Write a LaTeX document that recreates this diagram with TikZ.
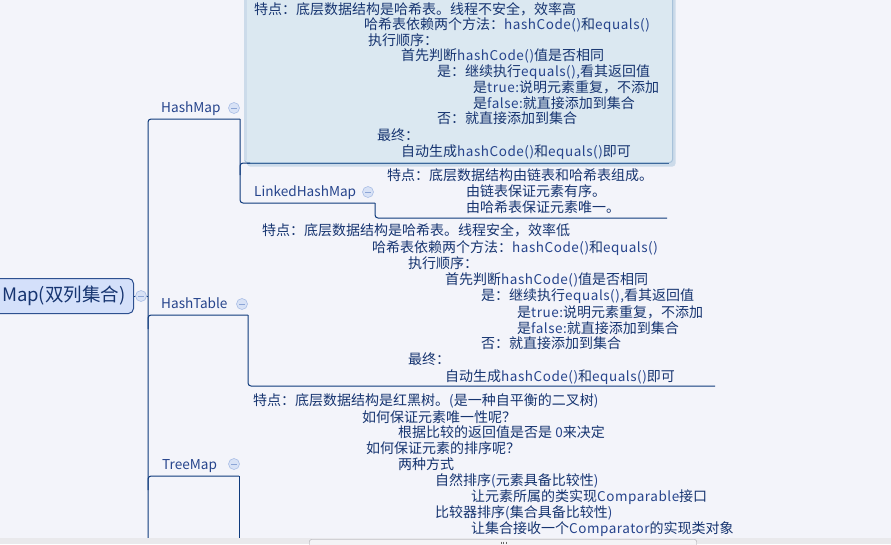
\documentclass[tikz,border=0pt]{standalone}
\usepackage{fontspec}
\setmainfont{Noto Sans CJK SC}
\newfontfamily\enfont[LetterSpace=4.0]{Noto Sans CJK SC}
\definecolor{bg}{RGB}{243,244,250}
\definecolor{ink}{RGB}{22,52,112}
\definecolor{enink}{RGB}{38,68,140}
\definecolor{linec}{RGB}{14,58,124}
\definecolor{boxfill}{RGB}{219,232,241}
\definecolor{boxedge}{RGB}{168,194,218}
\definecolor{boxshadow}{RGB}{204,219,234}
\definecolor{boxbottom}{RGB}{60,104,155}
\definecolor{rootfill}{RGB}{212,224,250}
\definecolor{rootedge}{RGB}{45,80,144}
\definecolor{circfill}{RGB}{216,226,246}
\definecolor{circedge}{RGB}{170,190,230}
\definecolor{circminus}{RGB}{140,165,214}
\definecolor{barfill}{RGB}{233,233,236}
\definecolor{thumbfill}{RGB}{244,244,246}
\definecolor{thumbedge}{RGB}{160,160,166}
\newcommand\en[1]{{\enfont\fontsize{13.5}{14}\selectfont\color{enink}#1}}
\tikzset{
  txt/.style={anchor=base west,inner sep=0pt,font=\fontsize{14}{14}\selectfont,text=ink},
  topic/.style={anchor=base west,inner sep=0pt,font=\fontsize{13.6}{14}\selectfont,text=enink},
  conn/.style={draw=linec,line width=1pt,rounded corners=3pt},
  fold/.style={circle,minimum size=11pt,inner sep=0pt,fill=circfill,draw=circedge,line width=0.6pt},
  hmbox/.style={rectangle,rounded corners=3pt,fill=boxfill,draw=boxedge,line width=1pt,inner sep=0pt},
  rootbox/.style={rectangle,rounded corners=5pt,fill=rootfill,draw=rootedge,line width=1pt,inner sep=0pt,text=ink,font=\fontsize{18.5}{18.5}\selectfont}
}
\begin{document}
\begin{tikzpicture}[x=1pt,y=-1pt]
\useasboundingbox (0,0) rectangle (891,544);
\fill[bg] (0,0) rectangle (891,544);
\clip (0,0) rectangle (891,544);

% ---------- corner coordinates ----------
\coordinate (trunkBot) at (148,538);
\coordinate (trunkTop) at (148,119);
\coordinate (hmEnd) at (240,119);
\coordinate (hmBoxJ) at (240,163);
\coordinate (lhmStart) at (240,203);
\coordinate (lhmEnd) at (375,203);
\coordinate (lhmDet) at (375,218);
\coordinate (lhmDetEnd) at (667,218);
\coordinate (htStart) at (148,315);
\coordinate (htEnd) at (248,315);
\coordinate (htDet) at (248,386);
\coordinate (htDetEnd) at (715,386);
\coordinate (tmStart) at (148,476);
\coordinate (tmEnd) at (239,476);
\coordinate (tmBot) at (239,538);
\coordinate (rootJ) at (148,296);

% ---------- HashMap detail box ----------
\fill[boxshadow,rounded corners=3pt] (247,-6) rectangle (675.5,166.5);
\node[hmbox,minimum width=428pt,minimum height=170pt,anchor=south west] (hmbox) at (244,163) {};
\draw[boxshadow,line width=3pt] (245.8,-6) -- (245.8,160);
\draw[boxbottom,line width=1pt] (247,163) -- (669,163);

% ---------- root ----------
\node[rootbox,minimum height=35pt,anchor=east] (root) at (134,296)
  {\makebox[142pt][r]{Map(双列集合)\hspace{8pt}}};

% ---------- connectors ----------
\draw[conn] (root.east) -- (rootJ);
\draw[conn] (trunkBot) -- (trunkTop) -- (hmEnd);
\draw[conn] (hmEnd) -- (lhmStart) -- (lhmEnd);
\draw[conn] ([yshift=-12pt]hmBoxJ) -- (hmBoxJ) -- ([xshift=10pt]hmBoxJ);
\draw[conn] (lhmEnd) -- (lhmDet) -- (lhmDetEnd);
\draw[conn] ([yshift=-14pt]htStart) -- (htStart) -- (htEnd);
\draw[conn] (htEnd) -- (htDet) -- (htDetEnd);
\draw[conn] ([yshift=-14pt]tmStart) -- (tmStart) -- (tmEnd);
\draw[conn] (tmEnd) -- (tmBot);

% ---------- topics ----------
\node[topic] (hm) at (161,112.5) {HashMap};
\node[topic] (lhm) at (254,196.5) {LinkedHashMap};
\node[topic] (ht) at (161,308.5) {HashTable};
\node[topic] (tm) at (162,469) {TreeMap};

% ---------- fold circles ----------
\node[fold] (f0) at (141,296) {};
\node[fold] (f1) at (234,108) {};
\node[fold] (f2) at (368,192) {};
\node[fold] (f3) at (242,304) {};
\node[fold] (f4) at (234,464) {};
\foreach \c in {f0,f1,f2,f3,f4}
  \draw[circminus,line width=0.9pt] ([xshift=-2.8pt]\c.center) -- ([xshift=2.8pt]\c.center);

% ---------- HashMap details ----------
\node[txt] (a1) at (254,14.5) {特点：底层数据结构是哈希表。线程不安全，效率高};
\node[txt] (a2) at (364,29.5) {哈希表依赖两个方法：\en{hashCode()}和\en{equals()}};
\node[txt] (a3) at (368,45) {执行顺序：};
\node[txt] (a4) at (401,60.5) {首先判断\en{hashCode()}值是否相同};
\node[txt] (a5) at (437,76.5) {是：继续执行\en{equals(),}看其返回值};
\node[txt] (a6) at (473,92.5) {是\en{true:}说明元素重复，不添加};
\node[txt] (a7) at (473,108.5) {是\en{false:}就直接添加到集合};
\node[txt] (a8) at (437,123.5) {否：就直接添加到集合};
\node[txt] (a9) at (377,140) {最终：};
\node[txt] (a10) at (401,156.5) {自动生成\en{hashCode()}和\en{equals()}即可};

% ---------- LinkedHashMap details ----------
\node[txt] (b1) at (387,180) {特点：底层数据结构由链表和哈希表组成。};
\node[txt] (b2) at (466,196.5) {由链表保证元素有序。};
\node[txt] (b3) at (466,212) {由哈希表保证元素唯一。};

% ---------- HashTable details ----------
\node[txt] (c1) at (262,235) {特点：底层数据结构是哈希表。线程安全，效率低};
\node[txt] (c2) at (372,252) {哈希表依赖两个方法：\en{hashCode()}和\en{equals()}};
\node[txt] (c3) at (408,268) {执行顺序：};
\node[txt] (c4) at (445,284) {首先判断\en{hashCode()}值是否相同};
\node[txt] (c5) at (481,300) {是：继续执行\en{equals(),}看其返回值};
\node[txt] (c6) at (517,317) {是\en{true:}说明元素重复，不添加};
\node[txt] (c7) at (517,333) {是\en{false:}就直接添加到集合};
\node[txt] (c8) at (481,348) {否：就直接添加到集合};
\node[txt] (c9) at (408,364) {最终：};
\node[txt] (c10) at (445,381) {自动生成\en{hashCode()}和\en{equals()}即可};

% ---------- TreeMap details ----------
\node[txt] (d1) at (253,405) {特点：底层数据结构是红黑树。\en{(}是一种自平衡的二叉树\en{)}};
\node[txt] (d2) at (362,422) {如何保证元素唯一性呢？};
\node[txt] (d3) at (398,437) {根据比较的返回值是否是 \en{0}来决定};
\node[txt] (d4) at (366,453) {如何保证元素的排序呢？};
\node[txt] (d5) at (398,469) {两种方式};
\node[txt] (d6) at (435,485) {自然排序\en{(}元素具备比较性\en{)}};
\node[txt] (d7) at (471,501) {让元素所属的类实现\en{Comparable}接口};
\node[txt] (d8) at (435,517) {比较器排序\en{(}集合具备比较性\en{)}};
\node[txt] (d9) at (471,533) {让集合接收一个\en{Comparator}的实现类对象};

% ---------- scrollbar strip ----------
\fill[barfill] (0,538) rectangle (891,544);
\draw[thumbedge,fill=thumbfill,rounded corners=2pt] (309.5,539.5) rectangle (696.5,548);
\foreach \gx in {501,503.5,506}
  \draw[black!60,line width=0.8pt] (\gx,541.5) -- (\gx,544);
\end{tikzpicture}
\end{document}
